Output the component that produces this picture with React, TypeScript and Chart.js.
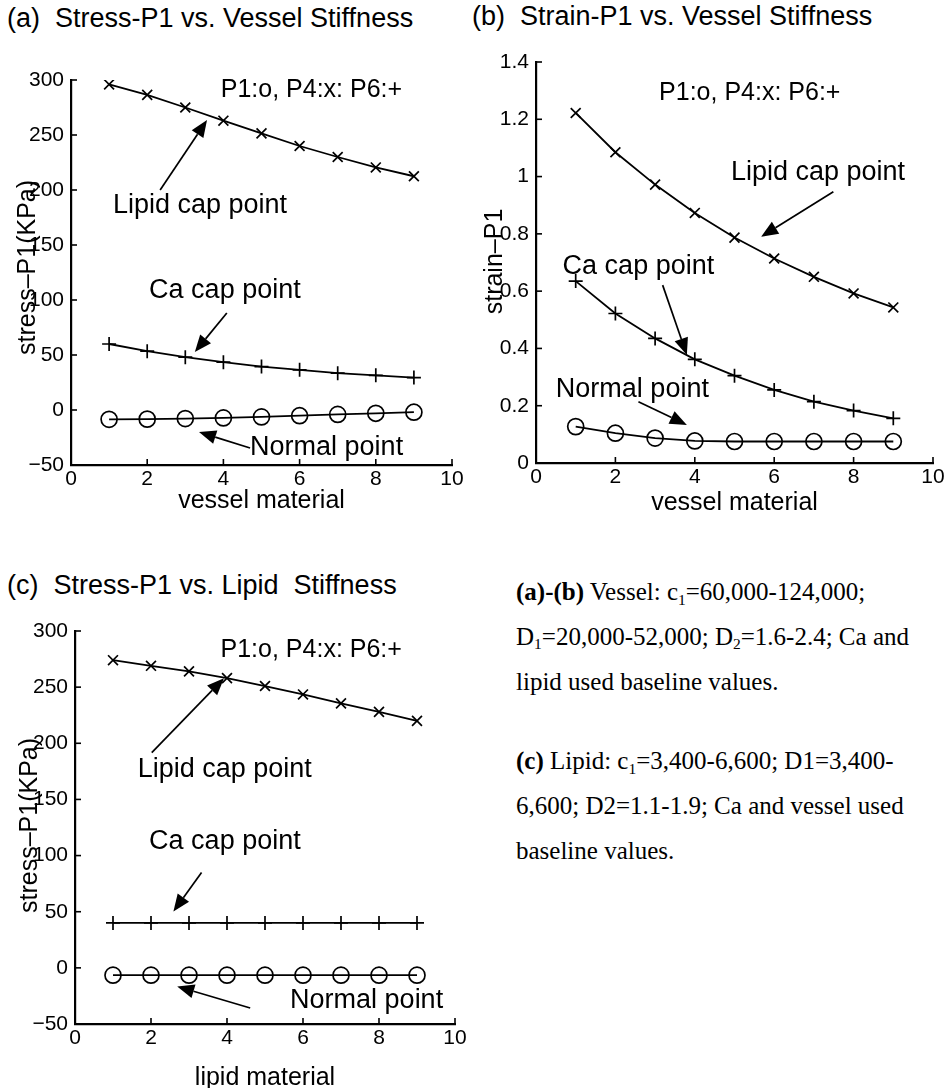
import React, { useEffect, useRef } from 'react';
import { Chart, registerables } from 'chart.js';

Chart.register(...registerables);

// ---------- data ----------
const materialLevels = [1, 2, 3, 4, 5, 6, 7, 8, 9];

const aLipidStress = [296, 286.5, 275, 263, 251.5, 240, 230, 220.5, 212.5];
const aCaStress = [60, 53.5, 48, 43.5, 39.5, 36.5, 33.5, 31.5, 29.5];
const aNormalStress = [-8.5, -8.3, -7.8, -7.2, -6.3, -5.2, -4, -3, -2];

const bLipidStrain = [1.222, 1.085, 0.972, 0.873, 0.787, 0.714, 0.65, 0.592, 0.543];
const bCaStrain = [0.635, 0.522, 0.435, 0.362, 0.305, 0.255, 0.214, 0.183, 0.156];
const bNormalStrain = [0.127, 0.104, 0.087, 0.077, 0.075, 0.075, 0.075, 0.075, 0.075];

const cLipidStress = [274, 269, 264, 258, 251, 243.5, 235.5, 228, 220];
const cCaStress = [40, 40, 40, 40, 40, 40, 40, 40, 40];
const cNormalStress = [-6.5, -6.5, -6.5, -6.5, -6.5, -6.5, -6.5, -6.5, -6.5];

const xTickValues = [0, 2, 4, 6, 8, 10];
const stressTickValues = [-50, 0, 50, 100, 150, 200, 250, 300];
const strainTickValues = [0, 0.2, 0.4, 0.6, 0.8, 1, 1.2, 1.4];

const legendNote = 'P1:o, P4:x: P6:+';

const FONT = '"Liberation Sans", Arial, Helvetica, sans-serif';

type Txt = { text: string; x: number; y: number; size: number };
type Arrow = { x1: number; y1: number; x2: number; y2: number };

type PanelCfg = {
  width: number;
  height: number;
  left: number;
  top: number;
  padTop: number;
  padRight: number;
  yWidth: number;
  xHeight: number;
  yMin: number;
  yMax: number;
  yTicks: number[];
  series: number[][];
  texts: Txt[];
  arrows: Arrow[];
  xTitle: string;
  yTitle: string;
  xTitleOffset: number;
  yTitleOffset: number;
  yTitleShift: number;
};

const pointStyles = ['crossRot', 'cross', 'circle'];
const pointRadii = [7, 7, 8];

function makePlugin(cfg: PanelCfg) {
  return {
    id: 'annot',
    afterDraw(chart: any) {
      const { ctx, chartArea: ca, scales } = chart;
      const xs = scales.x;
      const ys = scales.y;
      ctx.save();
      ctx.strokeStyle = '#000';
      ctx.fillStyle = '#000';
      ctx.lineWidth = 1.6;
      // inward ticks (MATLAB style)
      xs.ticks.forEach((t: any) => {
        const px = xs.getPixelForValue(t.value);
        ctx.beginPath();
        ctx.moveTo(px, ca.bottom);
        ctx.lineTo(px, ca.bottom - 6);
        ctx.stroke();
      });
      ys.ticks.forEach((t: any) => {
        const py = ys.getPixelForValue(t.value);
        ctx.beginPath();
        ctx.moveTo(ca.left, py);
        ctx.lineTo(ca.left + 6, py);
        ctx.stroke();
      });
      // texts
      ctx.textAlign = 'left';
      ctx.textBaseline = 'alphabetic';
      cfg.texts.forEach((t) => {
        ctx.font = `${t.size}px ${FONT}`;
        ctx.fillText(t.text, xs.getPixelForValue(t.x), ys.getPixelForValue(t.y));
      });
      // arrows
      cfg.arrows.forEach((a) => {
        const x1 = xs.getPixelForValue(a.x1);
        const y1 = ys.getPixelForValue(a.y1);
        const x2 = xs.getPixelForValue(a.x2);
        const y2 = ys.getPixelForValue(a.y2);
        const ang = Math.atan2(y2 - y1, x2 - x1);
        const len = 17;
        const hw = 7;
        const bx = x2 - len * Math.cos(ang);
        const by = y2 - len * Math.sin(ang);
        ctx.lineWidth = 1.7;
        ctx.beginPath();
        ctx.moveTo(x1, y1);
        ctx.lineTo(bx, by);
        ctx.stroke();
        ctx.beginPath();
        ctx.moveTo(x2, y2);
        ctx.lineTo(bx + hw * Math.sin(ang), by - hw * Math.cos(ang));
        ctx.lineTo(bx - hw * Math.sin(ang), by + hw * Math.cos(ang));
        ctx.closePath();
        ctx.fill();
      });
      // axis titles
      ctx.font = `25px ${FONT}`;
      ctx.textAlign = 'center';
      ctx.fillText(cfg.xTitle, (ca.left + ca.right) / 2, ca.bottom + cfg.xTitleOffset);
      ctx.translate(ca.left - cfg.yTitleOffset, (ca.top + ca.bottom) / 2 + cfg.yTitleShift);
      ctx.rotate(-Math.PI / 2);
      ctx.fillText(cfg.yTitle, 0, 0);
      ctx.restore();
    },
  };
}

function Panel({ cfg }: { cfg: PanelCfg }) {
  const ref = useRef<HTMLCanvasElement>(null);
  useEffect(() => {
    if (!ref.current) return;
    const datasets = cfg.series.map((vals, i) => ({
      data: materialLevels.map((x, j) => ({ x, y: vals[j] })),
      borderColor: '#000',
      borderWidth: 1.8,
      pointStyle: pointStyles[i],
      pointRadius: pointRadii[i],
      pointHoverRadius: pointRadii[i],
      pointBorderColor: '#000',
      pointBackgroundColor: 'rgba(0,0,0,0)',
      pointBorderWidth: 1.7,
      fill: false,
      tension: 0,
    }));
    const tickFont = { size: 21, family: FONT };
    const chart = new Chart(ref.current, {
      type: 'line',
      data: { datasets },
      options: {
        animation: false,
        responsive: false,
        events: [],
        layout: { padding: { top: cfg.padTop, right: cfg.padRight, left: 0, bottom: 0 } },
        plugins: { legend: { display: false }, tooltip: { enabled: false }, title: { display: false } },
        scales: {
          x: {
            type: 'linear',
            min: 0,
            max: 10,
            afterBuildTicks: (s: any) => {
              s.ticks = xTickValues.map((v) => ({ value: v }));
            },
            afterFit: (s: any) => {
              s.height = cfg.xHeight;
            },
            ticks: { color: '#000', font: tickFont, padding: 2, autoSkip: false, maxRotation: 0 },
            grid: { display: true, drawOnChartArea: false, drawTicks: false },
            border: { display: true, color: '#000', width: 2.2 },
          },
          y: {
            type: 'linear',
            min: cfg.yMin,
            max: cfg.yMax,
            afterBuildTicks: (s: any) => {
              s.ticks = cfg.yTicks.map((v) => ({ value: v }));
            },
            afterFit: (s: any) => {
              s.width = cfg.yWidth;
            },
            ticks: {
              color: '#000',
              font: tickFont,
              padding: 7,
              autoSkip: false,
              callback: (v: any) => String(v).replace('-', '\u2212'),
            },
            grid: { display: true, drawOnChartArea: false, drawTicks: false },
            border: { display: true, color: '#000', width: 2.2 },
          },
        },
      },
      plugins: [makePlugin(cfg)],
    } as any);
    return () => chart.destroy();
  }, [cfg]);
  return (
    <canvas
      ref={ref}
      width={cfg.width}
      height={cfg.height}
      style={{ position: 'absolute', left: cfg.left, top: cfg.top, width: cfg.width, height: cfg.height, display: 'block' }}
    />
  );
}

const panelA: PanelCfg = {
  width: 470, height: 500, left: 0, top: 40,
  padTop: 40, padRight: 18, yWidth: 71, xHeight: 75,
  yMin: -50, yMax: 300, yTicks: stressTickValues,
  series: [aLipidStress, aCaStress, aNormalStress],
  texts: [
    { text: legendNote, x: 3.93, y: 284.8, size: 25 },
    { text: 'Lipid cap point', x: 1.1, y: 179, size: 27 },
    { text: 'Ca cap point', x: 2.05, y: 101.8, size: 27 },
    { text: 'Normal point', x: 4.7, y: -40.9, size: 27 },
  ],
  arrows: [
    { x1: 2.34, y1: 200, x2: 3.57, y2: 263.6 },
    { x1: 4.09, y1: 88.2, x2: 3.25, y2: 52.7 },
    { x1: 4.7, y1: -34.5, x2: 3.36, y2: -20 },
  ],
  xTitle: 'vessel material', yTitle: 'stress\u2013P1(KPa)',
  xTitleOffset: 43, yTitleOffset: 36, yTitleShift: -5,
};

const panelB: PanelCfg = {
  width: 479, height: 500, left: 470, top: 40,
  padTop: 22, padRight: 16, yWidth: 66, xHeight: 77,
  yMin: 0, yMax: 1.4, yTicks: strainTickValues,
  series: [bLipidStrain, bCaStrain, bNormalStrain],
  texts: [
    { text: legendNote, x: 3.1, y: 1.267, size: 25 },
    { text: 'Lipid cap point', x: 4.91, y: 0.988, size: 27 },
    { text: 'Ca cap point', x: 0.67, y: 0.66, size: 27 },
    { text: 'Normal point', x: 0.5, y: 0.231, size: 27 },
  ],
  arrows: [
    { x1: 7.49, y1: 0.947, x2: 5.67, y2: 0.79 },
    { x1: 3.19, y1: 0.621, x2: 3.8, y2: 0.377 },
    { x1: 2.58, y1: 0.214, x2: 3.8, y2: 0.133 },
  ],
  xTitle: 'vessel material', yTitle: 'strain\u2013P1',
  xTitleOffset: 47, yTitleOffset: 34, yTitleShift: -1,
};

const panelC: PanelCfg = {
  width: 470, height: 488, left: 0, top: 600,
  padTop: 31, padRight: 15, yWidth: 75, xHeight: 64,
  yMin: -50, yMax: 300, yTicks: stressTickValues,
  series: [cLipidStress, cCaStress, cNormalStress],
  texts: [
    { text: legendNote, x: 3.83, y: 277.1, size: 25 },
    { text: 'Lipid cap point', x: 1.65, y: 170.3, size: 27 },
    { text: 'Ca cap point', x: 1.95, y: 105.7, size: 27 },
    { text: 'Normal point', x: 5.66, y: -35.8, size: 27 },
  ],
  arrows: [
    { x1: 2.02, y1: 191.7, x2: 3.92, y2: 257.9 },
    { x1: 3.33, y1: 84.9, x2: 2.59, y2: 50.2 },
    { x1: 4.61, y1: -35.8, x2: 2.69, y2: -16.5 },
  ],
  xTitle: 'lipid material', yTitle: 'stress\u2013P1(KPa)',
  xTitleOffset: 61, yTitleOffset: 38, yTitleShift: -2,
};

const titleStyle: React.CSSProperties = {
  position: 'absolute',
  fontFamily: FONT,
  fontSize: 27,
  lineHeight: '27px',
  whiteSpace: 'pre',
  color: '#000',
};

const noteStyle: React.CSSProperties = {
  position: 'absolute',
  left: 516,
  fontFamily: '"Liberation Serif", "Times New Roman", serif',
  fontSize: 25,
  lineHeight: '44.7px',
  whiteSpace: 'nowrap',
  color: '#000',
};

const subStyle: React.CSSProperties = {
  fontSize: '0.62em',
  lineHeight: 0,
  verticalAlign: 'baseline',
  position: 'relative',
  top: '0.28em',
};

export default function App() {
  return (
    <div style={{ position: 'absolute', left: 0, top: 0, width: 949, height: 1088, background: '#fff', overflow: 'hidden' }}>
      <div style={{ ...titleStyle, left: 7, top: 5 }}>{'(a)  Stress-P1 vs. Vessel Stiffness'}</div>
      <div style={{ ...titleStyle, left: 472, top: 3 }}>{'(b)  Strain-P1 vs. Vessel Stiffness'}</div>
      <div style={{ ...titleStyle, left: 7, top: 572 }}>{'(c)  Stress-P1 vs. Lipid  Stiffness'}</div>
      <Panel cfg={panelA} />
      <Panel cfg={panelB} />
      <Panel cfg={panelC} />
      <div style={{ ...noteStyle, top: 570.2 }}>
        <b>(a)-(b)</b> Vessel: c<span style={subStyle}>1</span>=60,000-124,000;
        <br />
        D<span style={subStyle}>1</span>=20,000-52,000; D<span style={subStyle}>2</span>=1.6-2.4; Ca and
        <br />
        lipid used baseline values.
      </div>
      <div style={{ ...noteStyle, top: 739.2 }}>
        <b>(c)</b> Lipid: c<span style={subStyle}>1</span>=3,400-6,600; D1=3,400-
        <br />
        6,600; D2=1.1-1.9; Ca and vessel used
        <br />
        baseline values.
      </div>
    </div>
  );
}
